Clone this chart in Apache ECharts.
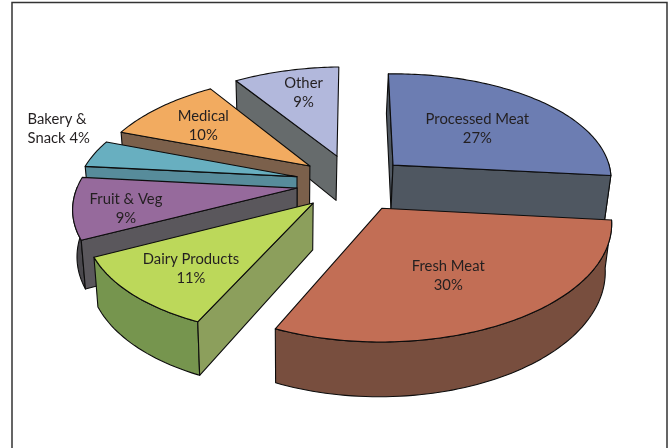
<!DOCTYPE html>
<html>
<head>
<meta charset="utf-8">
<style>html,body{margin:0;padding:0;background:#fff}#c{width:672px;height:448px}</style>
<script src="https://cdn.jsdelivr.net/npm/echarts@6/dist/echarts.min.js"></script>
</head>
<body>
<div id="c"></div>
<script>
var categories = ['Processed Meat', 'Fresh Meat', 'Dairy Products', 'Fruit & Veg', 'Bakery & Snack', 'Medical', 'Other'];
var values = [27, 30, 11, 9, 4, 10, 9];

var topColors = ['#6c7db2', '#c26e55', '#bcd85a', '#966a9c', '#68afc0', '#f2ab60', '#b2b8dc'];
var radialColors = ['#4f5761', '#784e3e', '#8c9f5c', '#5a575c', '#578c9b', '#7b604b', '#666b6c'];
var arcColors = ['#4f5761', '#784e3e', '#76954e', '#4a484d', '#578c9b', '#7b604b', '#666b6c'];
var labelRadius = [0.557, 0.60, 0.712, 0.768, 1.44, 0.69, 0.729];
var labelTurn = [0.3, 3, -1.4, -2.9, 7, -0.5, 2];
var explodeBy = [0.248, 0.263, 0.25, 0.256, 0.265, 0.26, 0.27];
var drawOrder = [6, 5, 4, 3, 2, 0, 1];

var cx = 353, cy = 183, rx = 220, ry = 108, persp = 0.135, depth = 45.7;
var roll = -0.013, shrink = 0.02, vanish = -62, labelDrop = 1;
var RAD = Math.PI / 180;
var total = values.reduce(function (a, b) { return a + b; }, 0);
var starts = [];
values.reduce(function (acc, v, i) { starts[i] = acc; return acc + v; }, 0);

function project(X, Y, z) {
  var d = 1 + persp * Y;
  var sx = rx * X / d, sy = -ry * Y / d;
  if (z) { sx = sx * (1 - shrink) + shrink * vanish; sy += depth / d; }
  return [cx + sx, cy + sy + roll * sx];
}

function renderSlice(params, api) {
  var i = api.value(0);
  var a0 = starts[i] / total * 360, a1 = (starts[i] + values[i]) / total * 360, mid = (a0 + a1) / 2;
  var ex = explodeBy[i] * Math.sin(mid * RAD), ey = explodeBy[i] * Math.cos(mid * RAD);
  function rim(t, z) { return project(ex + Math.sin(t * RAD), ey + Math.cos(t * RAD), z); }
  var apexT = project(ex, ey, 0), apexB = project(ex, ey, 1);
  var children = [];
  function poly(points, fill) {
    children.push({
      type: 'polygon', shape: { points: points },
      style: { fill: fill, stroke: '#0c0c0c', lineWidth: 1.1, lineJoin: 'round' }
    });
  }
  // outer wall: only the part facing the viewer
  var f0 = Math.max(a0, 90), f1 = Math.min(a1, 272);
  if (f1 > f0) {
    var wall = [], t;
    for (t = f0; t < f1; t += 1.5) wall.push(rim(t, 0));
    wall.push(rim(f1, 0));
    wall.push(rim(f1, 1));
    for (t = f1; t > f0; t -= 1.5) wall.push(rim(t, 1));
    wall.push(rim(f0, 1));
    poly(wall, arcColors[i]);
  }
  // radial walls
  if (a0 > 180 || a0 === 0) {
    poly([apexT, rim(a0, 0), rim(a0, 1), apexB], radialColors[i]);
  }
  if (a1 < 180) {
    poly([apexT, rim(a1, 0), rim(a1, 1), apexB], radialColors[i]);
  }
  // top face
  var face = [apexT];
  for (var s = a0; s < a1; s += 1) face.push(rim(s, 0));
  face.push(rim(a1, 0));
  poly(face, topColors[i]);
  // label
  var lr = labelRadius[i], la = (mid + labelTurn[i]) * RAD;
  var lp = project(ex + lr * Math.sin(la), ey + lr * Math.cos(la), 0);
  var outside = lr > 1;
  var name = categories[i];
  var text = outside
    ? name.replace(' Snack', '\nSnack') + ' ' + values[i] + '%'
    : name + '\n' + values[i] + '%';
  children.push({
    type: 'text', silent: true,
    style: {
      x: lp[0], y: lp[1] + labelDrop, text: text,
      fill: '#231f20', font: '14.8px Lato, "Open Sans", sans-serif', lineHeight: 19,
      align: outside ? 'left' : 'center', verticalAlign: 'middle'
    }
  });
  return { type: 'group', children: children };
}

var chart = echarts.init(document.getElementById('c'), null, { renderer: 'canvas' });
chart.setOption({
  animation: false,
  backgroundColor: '#ffffff',
  graphic: [{
    type: 'rect', silent: true, z: -1,
    shape: { x: 12, y: 2.5, width: 655, height: 520 },
    style: { fill: 'none', stroke: '#333333', lineWidth: 1.5 }
  }],
  series: [{
    type: 'custom',
    coordinateSystem: 'none',
    silent: true,
    clip: false,
    renderItem: renderSlice,
    encode: { value: 0 },
    data: drawOrder.map(function (i) { return [i]; })
  }]
});
</script>
</body>
</html>
